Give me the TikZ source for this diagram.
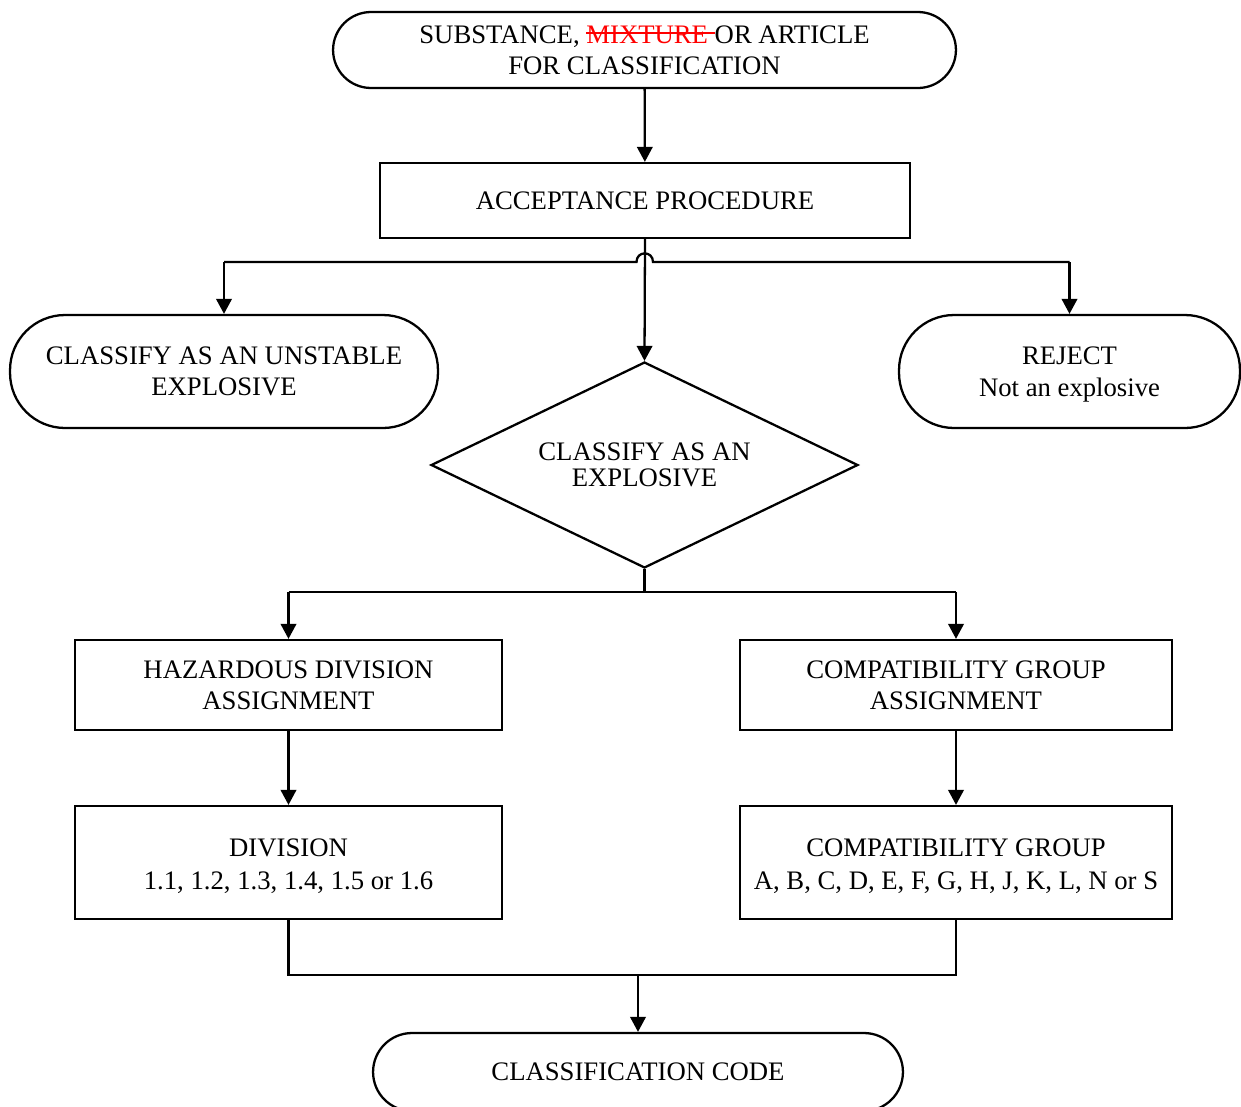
\documentclass[tikz,border=0pt]{standalone}
\usepackage{fontspec}
\setmainfont{Liberation Serif}
\usetikzlibrary{shapes.geometric,arrows.meta}
\newcommand\strkred[1]{\setbox0\hbox{\textcolor{red}{#1}}\rlap{\textcolor{red}{\rule[0.33em]{\wd0}{0.07em}}}\box0}
\newcommand\toppad[1]{\rule{0pt}{#1}}
\begin{document}
\begin{tikzpicture}[x=0.02cm,y=-0.02cm,
  every node/.style={font=\fontsize{15.2}{17.8}\selectfont, align=center, inner sep=0pt},
  ln/.style={line width=1.3pt},
  arr/.style={ln, -{Triangle[length=0.3cm,width=0.31cm]}},
  boxn/.style={draw, line width=1.3pt, rectangle},
  term/.style={draw, line width=1.3pt, rectangle},
  dia/.style={draw, line width=1.3pt, diamond, aspect=2.07, minimum width=8.54cm, minimum height=4.12cm,
    font=\fontsize{15.2}{14.7}\selectfont}]
\clip (0,0) rectangle (1241,1106);
\fill[white] (0,0) rectangle (1241,1106);
\node[term, minimum width=12.46cm, minimum height=1.52cm, rounded corners=0.76cm] (top) at (644.5,50)
  {SUBSTANCE, \strkred{MIXTURE }OR ARTICLE\\FOR CLASSIFICATION};
\node[boxn, minimum width=10.6cm, minimum height=1.5cm] (acc) at (645,200.5) {ACCEPTANCE PROCEDURE};
\node[term, minimum width=8.56cm, minimum height=2.26cm, rounded corners=1.1cm] (unst) at (224,371.5)
  {CLASSIFY AS AN UNSTABLE\\EXPLOSIVE};
\node[term, minimum width=6.82cm, minimum height=2.26cm, rounded corners=1.1cm] (rej) at (1069.5,371.5)
  {\toppad{13.4pt}REJECT\\Not an explosive};
\node[dia] (expl) at (644.5,465) {CLASSIFY AS AN\\EXPLOSIVE};
\node[boxn, minimum width=8.54cm, minimum height=1.8cm] (haz) at (288.5,685) {HAZARDOUS DIVISION\\ASSIGNMENT};
\node[boxn, minimum width=8.64cm, minimum height=1.8cm] (cga) at (956,685) {COMPATIBILITY GROUP\\ASSIGNMENT};
\node[boxn, minimum width=8.54cm, minimum height=2.26cm] (div) at (288.5,862.5)
  {\toppad{14.5pt}DIVISION\\[1.1pt]1.1, 1.2, 1.3, 1.4, 1.5 or 1.6};
\node[boxn, minimum width=8.64cm, minimum height=2.26cm] (cg) at (956,862.5)
  {\toppad{14.5pt}COMPATIBILITY GROUP\\[1.1pt]A, B, C, D, E, F, G, H, J, K, L, N or S};
\node[term, minimum width=10.6cm, minimum height=1.56cm, rounded corners=0.78cm] (code) at (638,1072) {CLASSIFICATION CODE};
% connectors
\draw[arr] (top) -- (acc);
\draw[arr] (acc.south) -- (expl.north);
\coordinate (bl) at (224,262);
\coordinate (br) at (1069.5,262);
\coordinate (h1) at (636.5,262);
\coordinate (h2) at (653,262);
\draw[ln] (bl) -- (h1) .. controls (636.5,250.5) and (653,250.5) .. (h2) -- (br);
\draw[arr] (bl) -- (unst.north);
\draw[arr] (br) -- (rej.north);
\coordinate (ds) at (644.5,592);
\draw[ln] (expl.south) -- (ds);
\draw[ln] (haz.north |- ds) -- (cga.north |- ds);
\draw[arr] (haz.north |- ds) -- (haz.north);
\draw[arr] (cga.north |- ds) -- (cga.north);
\draw[arr] (haz) -- (div);
\draw[arr] (cga) -- (cg);
\coordinate (m) at (638,975);
\draw[ln] (div.south) -- (div.south |- m) -- (cg.south |- m) -- (cg.south);
\draw[arr] (m) -- (code.north);
\end{tikzpicture}
\end{document}
